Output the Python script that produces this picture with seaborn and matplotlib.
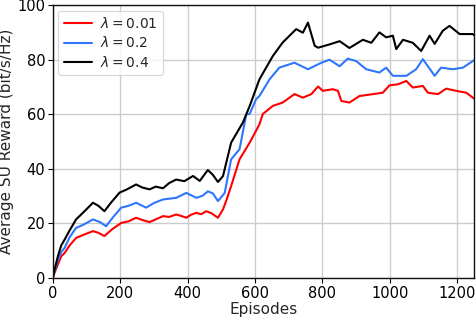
import matplotlib
matplotlib.use("Agg")
import matplotlib.pyplot as plt
import seaborn as sns
import pandas as pd

labels = [r"$\lambda = 0.01$", r"$\lambda = 0.2$", r"$\lambda = 0.4$"]
colors = ["#ff0000", "#2f76ff", "#000000"]

ep_red = [0, 5, 15, 25, 35, 50, 69, 90, 119, 135, 153, 175, 203, 225, 247, 265, 287, 305, 327, 345, 366, 380, 396, 410, 426, 440, 455, 470, 490, 505, 515, 529, 554, 584, 613, 623, 653, 682, 717, 742, 767, 787, 801, 831, 846, 856, 880, 910, 950, 979, 999, 1024, 1049, 1068, 1098, 1113, 1143, 1167, 1197, 1227, 1246, 1250]
val_red = [0, 1.9, 5, 8, 9.2, 12, 14.7, 15.8, 17.2, 16.6, 15.4, 17.8, 20.2, 20.8, 22.1, 21.3, 20.5, 21.5, 22.7, 22.4, 23.3, 22.8, 22.1, 23.2, 23.9, 23.4, 24.5, 23.8, 22.1, 25.2, 28.5, 33.7, 43.5, 49.6, 56.3, 60.1, 63.1, 64.3, 67.4, 66.1, 67.4, 70.2, 68.6, 69.2, 68.6, 64.9, 64.3, 66.7, 67.4, 67.9, 70.6, 71.0, 72.2, 69.8, 70.4, 67.9, 67.4, 69.4, 68.6, 67.9, 66.1, 65.8]

ep_blue = [0, 5, 15, 25, 35, 50, 69, 90, 119, 140, 158, 180, 203, 225, 247, 277, 300, 327, 366, 396, 426, 445, 460, 475, 490, 510, 529, 554, 574, 584, 603, 613, 643, 672, 717, 757, 797, 821, 851, 875, 900, 930, 969, 989, 1009, 1049, 1078, 1098, 1133, 1152, 1187, 1217, 1246, 1250]
val_blue = [0, 2.5, 6.5, 9.5, 11.1, 15, 18.4, 19.5, 21.5, 20.5, 19.0, 22.5, 25.8, 26.5, 27.6, 25.8, 27.5, 28.8, 29.4, 31.2, 29.4, 30.2, 31.8, 31.0, 28.2, 31.2, 43.5, 47.2, 60.0, 60.1, 65.5, 66.7, 72.8, 77.1, 78.9, 76.5, 78.9, 80.0, 77.6, 80.4, 79.5, 76.5, 75.3, 77.1, 74.1, 74.1, 76.5, 80.2, 74.1, 77.1, 76.5, 77.1, 79.5, 79.8]

ep_black = [0, 5, 15, 25, 35, 50, 69, 90, 119, 135, 153, 175, 198, 220, 247, 265, 287, 305, 327, 345, 366, 390, 416, 436, 460, 475, 490, 505, 529, 564, 584, 613, 653, 682, 722, 742, 757, 777, 787, 821, 851, 880, 920, 945, 969, 989, 1009, 1019, 1039, 1068, 1093, 1118, 1133, 1157, 1177, 1207, 1246, 1250]
val_black = [0, 3, 8, 12, 14.1, 17.5, 21.5, 24, 27.6, 26.5, 24.5, 28, 31.3, 32.5, 34.3, 33.2, 32.5, 33.5, 32.9, 34.8, 36.1, 35.5, 37.4, 35.6, 39.6, 37.8, 35.2, 37.4, 49.6, 57.0, 63.0, 72.8, 81.4, 86.3, 91.2, 89.9, 93.6, 85.1, 84.4, 85.6, 86.8, 84.3, 87.3, 86.2, 90.0, 88.2, 88.8, 83.9, 87.3, 86.2, 83.2, 88.8, 85.8, 90.6, 92.4, 89.4, 89.4, 89.0]

frames = []
for lab, e, v in zip(labels, [ep_red, ep_blue, ep_black], [val_red, val_blue, val_black]):
    frames.append(pd.DataFrame({"Episodes": e, "Reward": v, "series": lab}))
df = pd.concat(frames, ignore_index=True)

sns.set_theme(style="whitegrid")
plt.rcParams["font.family"] = ["DejaVu Sans"]

fig, ax = plt.subplots(figsize=(4.76, 3.2), dpi=100)
fig.subplots_adjust(left=0.111, right=0.996, top=0.984, bottom=0.131)

sns.lineplot(data=df, x="Episodes", y="Reward", hue="series", palette=colors,
             hue_order=labels, linewidth=1.5, ax=ax, sort=False, estimator=None)

ax.set_xlim(0, 1250)
ax.set_ylim(0, 100)
ax.set_xticks([0, 200, 400, 600, 800, 1000, 1200])
ax.set_yticks([0, 20, 40, 60, 80, 100])
ax.set_xlabel("Episodes", fontsize=11, labelpad=1)
ax.set_ylabel("Average SU Reward (bit/s/Hz)", fontsize=11, labelpad=2)
ax.tick_params(axis="both", labelsize=10.5, length=3.5, width=0.8, direction="out",
               bottom=True, left=True, colors="black", pad=2)
ax.grid(True, color="#cccccc", linewidth=1.0)
ax.set_facecolor("white")
for s in ax.spines.values():
    s.set_color("#111111")
    s.set_linewidth(1.0)

leg = ax.legend(loc="upper left", fontsize=10, frameon=True, handlelength=2.0,
                borderpad=0.4, labelspacing=0.3, handletextpad=0.6,
                bbox_to_anchor=(0.0, 1.0), borderaxespad=0.4)
leg.get_frame().set_edgecolor("#cccccc")
leg.get_frame().set_linewidth(0.8)
leg.set_title(None)

fig.savefig("out.png", dpi=100)
